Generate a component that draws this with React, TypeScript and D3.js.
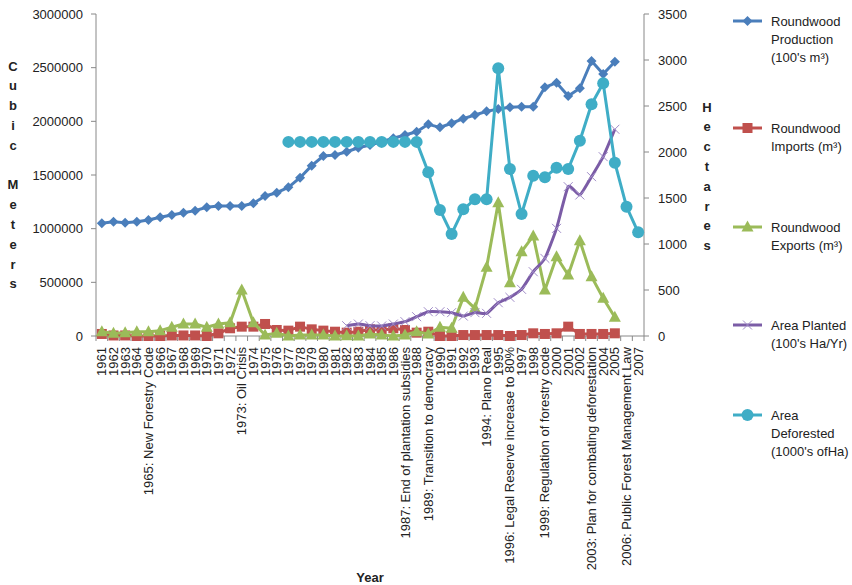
import React from 'react';
import * as d3 from 'd3';

const categories: string[] = [
  '1961', '1962', '1963', '1964', '1965: New Forestry Code', '1966', '1967', '1968', '1969', '1970',
  '1971', '1972', '1973: Oil Crisis', '1974', '1975', '1976', '1977', '1978', '1979', '1980',
  '1981', '1982', '1983', '1984', '1985', '1986', '1987: End of plantation subsidies', '1988',
  '1989: Transition to democracy', '1990', '1991', '1992', '1993', '1994: Plano Real', '1995',
  '1996: Legal Reserve increase to 80%', '1997', '1998', '1999: Regulation of forestry code', '2000',
  '2001', '2002', '2003: Plan for combating deforestation', '2004', '2005',
  '2006: Public Forest Management Law', '2007',
];

const production: (number | null)[] = [
  1050000, 1065000, 1056000, 1065000, 1081000, 1106000, 1127000, 1149000, 1168000, 1199000,
  1211000, 1211000, 1211000, 1236000, 1304000, 1335000, 1385000,
  1475000, 1587000, 1677000, 1686000, 1717000, 1754000, 1780000, 1810000, 1842000, 1873000,
  1903000, 1972000, 1944000, 1982000, 2025000, 2059000, 2093000, 2115000, 2131000, 2136000,
  2136000, 2317000, 2360000, 2236000, 2308000, 2562000, 2441000, 2556000, null, null,
];

const imports: (number | null)[] = [
  19000, 5000, 5000, 0, 0, 0, 5000, 5000, 5000, 0, 25000, 72000, 87000, 87000, 112000, 56000, 50000, 87000,
  62000, 50000, 40000, 31000, 40000, 62000, 50000, 72000, 56000, 31000, 40000, 0, 0, 9000, 9000, 9000,
  9000, 0, 9000, 25000, 19000, 25000, 87000, 19000, 19000, 19000, 25000, null, null,
];

const exportsData: (number | null)[] = [
  40000, 25000, 31000, 40000, 40000, 50000, 81000, 112000, 112000, 81000, 112000, 124000, 429000, 124000,
  9000, 25000,
  0, 9000, 9000, 9000, 0, 3000, 0, 19000, 9000, 0, 9000, 40000, 19000, 81000, 72000, 360000, 258000,
  640000, 1242000, 497000, 786000, 932000, 429000, 739000, 568000, 888000, 553000, 351000, 174000,
  null, null,
];

const areaPlanted: (number | null)[] = [
  null, null, null, null, null, null, null, null, null, null, null, null, null, null, null, null, null,
  null, null, null, null,
  112, 130, 112, 109, 130, 156, 210, 264, 264, 254, 217, 254, 246, 362, 420, 507, 699, 844, 1170,
  1623, 1533, 1732, 1949, 2247, null, null,
];

const areaDeforested: (number | null)[] = [
  null, null, null, null, null, null, null, null, null, null, null, null, null, null, null, null,
  2110, 2110, 2110, 2110, 2110, 2110, 2110, 2110, 2110, 2110, 2110, 2110,
  1779, 1370, 1109, 1377, 1486, 1486, 2910, 1815, 1326, 1743, 1725, 1830, 1815, 2123, 2519, 2747,
  1884, 1406, 1127,
];

const leftTicks = [0, 500000, 1000000, 1500000, 2000000, 2500000, 3000000];
const rightTicks = [0, 500, 1000, 1500, 2000, 2500, 3000, 3500];

const legendLabels: string[][] = [
  ['Roundwood', 'Production', "(100's m³)"],
  ['Roundwood', 'Imports (m³)'],
  ['Roundwood', 'Exports (m³)'],
  ['Area Planted', "(100's Ha/Yr)"],
  ['Area', 'Deforested', "(1000's ofHa)"],
];

const FONT = "'Liberation Sans', Arial, Helvetica, sans-serif";
const C_BLUE = '#4A7EBB';
const C_RED = '#C0504D';
const C_GREEN = '#9BBB59';
const C_PURPLE = '#7B5CA6';
const C_CYAN = '#3FADC6';

type Marker = 'diamond' | 'square' | 'triangle' | 'cross' | 'circle';

function MarkerShape({ type, color, x, y }: { type: Marker; color: string; x: number; y: number }) {
  const t = `translate(${x},${y})`;
  if (type === 'diamond') return <path transform={t} d="M0,-5 L5,0 L0,5 L-5,0 Z" fill={color} />;
  if (type === 'square') return <rect x={x - 5} y={y - 5} width={10} height={10} fill={color} />;
  if (type === 'triangle') return <path transform={t} d="M0,-6.5 L6,4.5 L-6,4.5 Z" fill={color} />;
  if (type === 'cross')
    return <path transform={t} d="M-4.5,-4.5 L4.5,4.5 M-4.5,4.5 L4.5,-4.5" stroke="#A08CC8" strokeWidth={1} fill="none" />;
  return <circle cx={x} cy={y} r={6} fill={color} />;
}

export default function App() {
  const W = 852, H = 585;
  const x0 = 96, x1 = 644, yTop = 14, yBot = 336;
  const xs = d3.scaleBand<string>().domain(categories).range([x0, x1]).padding(0);
  const yL = d3.scaleLinear().domain([0, 3000000]).range([yBot, yTop]);
  const yR = d3.scaleLinear().domain([0, 3500]).range([yBot, yTop]);
  const cx = (i: number) => (xs(categories[i]) as number) + xs.bandwidth() / 2;

  const series = [
    { data: production, y: yL, color: C_BLUE, marker: 'diamond' as Marker, width: 3, curve: d3.curveLinear },
    { data: imports, y: yL, color: C_RED, marker: 'square' as Marker, width: 3, curve: d3.curveLinear },
    { data: exportsData, y: yL, color: C_GREEN, marker: 'triangle' as Marker, width: 3, curve: d3.curveLinear },
    { data: areaPlanted, y: yR, color: C_PURPLE, marker: 'cross' as Marker, width: 3, curve: d3.curveCardinal.tension(0.5) },
    { data: areaDeforested, y: yR, color: C_CYAN, marker: 'circle' as Marker, width: 3, curve: d3.curveLinear },
  ];

  const legendMarkerY = [21, 128, 227, 325, 415];

  const cubic = 'Cubic Meters'.split('');
  const hect = 'Hectares'.split('');

  return (
    <svg width={W} height={H} style={{ position: 'absolute', left: 0, top: 0, background: '#fff' }} fontFamily={FONT}>
      {/* axes */}
      <line x1={x0} x2={x0} y1={yTop} y2={yBot} stroke="#888" strokeWidth={1} />
      <line x1={x1} x2={x1} y1={yTop} y2={yBot} stroke="#888" strokeWidth={1} />
      <line x1={x0} x2={x1} y1={yBot} y2={yBot} stroke="#888" strokeWidth={1} />
      {leftTicks.map((t) => (
        <g key={'l' + t}>
          <line x1={x0 - 5} x2={x0} y1={yL(t)} y2={yL(t)} stroke="#888" />
          <text x={83} y={yL(t)} dy="0.35em" textAnchor="end" fontSize={13} fill="#222">{t}</text>
        </g>
      ))}
      {rightTicks.map((t) => (
        <g key={'r' + t}>
          <line x1={x1} x2={x1 + 5} y1={yR(t)} y2={yR(t)} stroke="#888" />
          <text x={658} y={yR(t)} dy="0.35em" textAnchor="start" fontSize={13} fill="#222">{t}</text>
        </g>
      ))}
      {categories.map((c, i) => (
        <line key={'xt' + i} x1={xs(c)! + xs.bandwidth()} x2={xs(c)! + xs.bandwidth()} y1={yBot} y2={yBot + 5} stroke="#888" />
      ))}
      <line x1={x0} x2={x0} y1={yBot} y2={yBot + 5} stroke="#888" />
      {categories.map((c, i) => (
        <text key={'xl' + i} transform={`translate(${cx(i)},${yBot + 11}) rotate(-90)`} dy="0.35em" textAnchor="end" fontSize={13} fill="#222">
          {c}
        </text>
      ))}

      {/* axis titles */}
      <text fontSize={13} fontWeight="bold" fill="#222" textAnchor="middle">
        {cubic.map((ch, i) => (
          <tspan key={i} x={13} y={66 + i * 19.8} dy="0.35em">{ch === ' ' ? '\u00a0' : ch}</tspan>
        ))}
      </text>
      <text fontSize={13} fontWeight="bold" fill="#222" textAnchor="middle">
        {hect.map((ch, i) => (
          <tspan key={i} x={707} y={107 + i * 19.8} dy="0.35em">{ch}</tspan>
        ))}
      </text>
      <text x={370} y={577} dy="0.35em" textAnchor="middle" fontSize={13} fontWeight="bold" fill="#222">Year</text>

      {/* series */}
      {series.map((s, si) => {
        const line = d3
          .line<number | null>()
          .defined((v) => v != null)
          .x((_, i) => cx(i))
          .y((v) => s.y(v as number))
          .curve(s.curve);
        return (
          <g key={'s' + si}>
            <path d={line(s.data) || ''} fill="none" stroke={s.color} strokeWidth={s.width} strokeLinejoin="round" />
            {s.data.map((v, i) =>
              v == null ? null : <MarkerShape key={i} type={s.marker} color={s.color} x={cx(i)} y={s.y(v)} />
            )}
          </g>
        );
      })}

      {/* legend */}
      {series.map((s, si) => (
        <g key={'lg' + si}>
          <line x1={733} x2={762} y1={legendMarkerY[si]} y2={legendMarkerY[si]} stroke={s.color} strokeWidth={3} />
          <MarkerShape type={s.marker} color={s.color} x={747.5} y={legendMarkerY[si]} />
          <text fontSize={13} fill="#222">
            {legendLabels[si].map((l, li) => (
              <tspan key={li} x={771} y={legendMarkerY[si] + li * 18} dy="0.35em">{l}</tspan>
            ))}
          </text>
        </g>
      ))}
    </svg>
  );
}
